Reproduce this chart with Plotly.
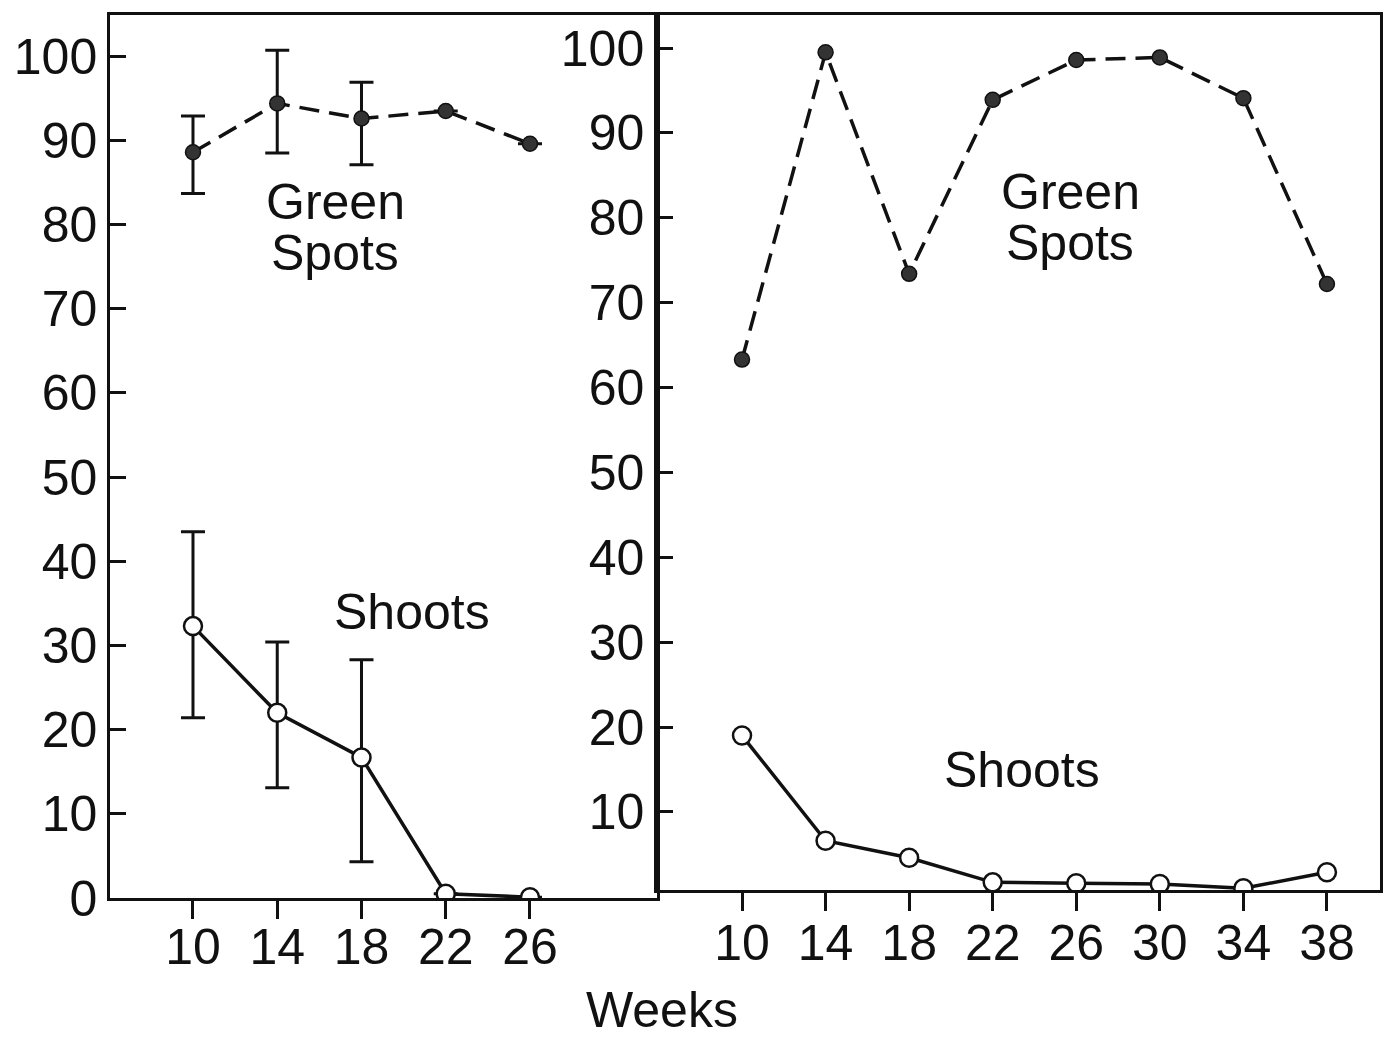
import plotly.graph_objects as go

# ---- Data ----
weeks_left = [10, 14, 18, 22, 26]
green_left = [88.6, 94.4, 92.6, 93.5, 89.6]
green_left_hi = [92.9, 100.7, 96.9, None, None]
green_left_lo = [83.7, 88.5, 87.1, None, None]
shoots_left = [32.3, 22.0, 16.7, 0.5, 0.1]
shoots_left_hi = [43.5, 30.4, 28.3, None, None]
shoots_left_lo = [21.4, 13.1, 4.3, None, None]

weeks_right = [10, 14, 18, 22, 26, 30, 34, 38]
green_right = [63.3, 99.5, 73.4, 93.9, 98.6, 98.9, 94.1, 72.2]
shoots_right = [19.0, 6.6, 4.6, 1.7, 1.6, 1.5, 1.0, 2.9]

left_xticks = [10, 14, 18, 22, 26]
right_xticks = [10, 14, 18, 22, 26, 30, 34, 38]
left_yticks = [0, 10, 20, 30, 40, 50, 60, 70, 80, 90, 100]
right_yticks = [10, 20, 30, 40, 50, 60, 70, 80, 90, 100]


def err(vals, bound, upper):
    out = []
    for v, b in zip(vals, bound):
        if b is None:
            out.append(0)
        else:
            out.append((b - v) if upper else (v - b))
    return out


W, H = 1384, 1037
FONT = "Liberation Sans, Arial, sans-serif"
BLACK = "#111111"
DASH = "20px,10px"

fig = go.Figure()

# Left panel
fig.add_trace(go.Scatter(
    x=weeks_left, y=green_left, mode="lines+markers",
    line=dict(color=BLACK, width=3.5, dash=DASH),
    marker=dict(size=15, color="#333333", line=dict(color=BLACK, width=1.5)),
    error_y=dict(type="data", symmetric=False,
                 array=err(green_left, green_left_hi, True),
                 arrayminus=err(green_left, green_left_lo, False),
                 color=BLACK, thickness=3, width=12),
    xaxis="x", yaxis="y", showlegend=False))
fig.add_trace(go.Scatter(
    x=weeks_left, y=shoots_left, mode="lines+markers",
    line=dict(color=BLACK, width=3.5),
    marker=dict(size=18, color="white", line=dict(color=BLACK, width=2.5)),
    error_y=dict(type="data", symmetric=False,
                 array=err(shoots_left, shoots_left_hi, True),
                 arrayminus=err(shoots_left, shoots_left_lo, False),
                 color=BLACK, thickness=3, width=12),
    xaxis="x", yaxis="y", showlegend=False))

# Right panel
fig.add_trace(go.Scatter(
    x=weeks_right, y=green_right, mode="lines+markers",
    line=dict(color=BLACK, width=3.5, dash=DASH),
    marker=dict(size=15, color="#333333", line=dict(color=BLACK, width=1.5)),
    xaxis="x2", yaxis="y2", showlegend=False))
fig.add_trace(go.Scatter(
    x=weeks_right, y=shoots_right, mode="lines+markers",
    line=dict(color=BLACK, width=3.5),
    marker=dict(size=18, color="white", line=dict(color=BLACK, width=2.5)),
    xaxis="x2", yaxis="y2", showlegend=False))

axis_common = dict(showline=True, linecolor=BLACK, linewidth=2.5, mirror=True,
                   showgrid=False, zeroline=False, tickcolor=BLACK, tickwidth=2.5,
                   automargin=False,
                   tickfont=dict(family=FONT, size=50, color=BLACK))

fig.update_layout(
    width=W, height=H,
    margin=dict(l=0, r=0, t=0, b=0, autoexpand=False),
    paper_bgcolor="white", plot_bgcolor="white",
    xaxis=dict(domain=[110 / W, 657 / W], range=[6.06, 32.03],
               tickvals=left_xticks, ticks="outside", ticklen=18, anchor="y",
               ticklabelstandoff=-15, **axis_common),
    yaxis=dict(domain=[1 - 898 / H, 1 - 15 / H], range=[0, 104.9],
               tickvals=left_yticks, ticks="inside", ticklen=16, anchor="x",
               **axis_common),
    xaxis2=dict(domain=[657 / W, 1380 / W], range=[5.93, 40.54],
                tickvals=right_xticks, ticks="outside", ticklen=18, anchor="y2",
                ticklabelstandoff=-11, **axis_common),
    yaxis2=dict(domain=[1 - 890 / H, 1 - 15 / H], range=[0.8, 103.9],
                tickvals=right_yticks, ticks="inside", ticklen=16, anchor="x2",
                **axis_common),
)

ann_font = dict(family=FONT, size=50, color=BLACK)
labels = [
    ("Green", 335, 202),
    ("Spots", 335, 253),
    ("Shoots", 412, 612),
    ("Green", 1070, 192),
    ("Spots", 1070, 243),
    ("Shoots", 1022, 770),
    ("Weeks", 662, 1010),
]
for text, px, py in labels:
    fig.add_annotation(text=text, x=px / W, y=1 - py / H, xref="paper", yref="paper",
                       showarrow=False, font=ann_font, xanchor="center", yanchor="middle")

fig.write_html("out.html")
